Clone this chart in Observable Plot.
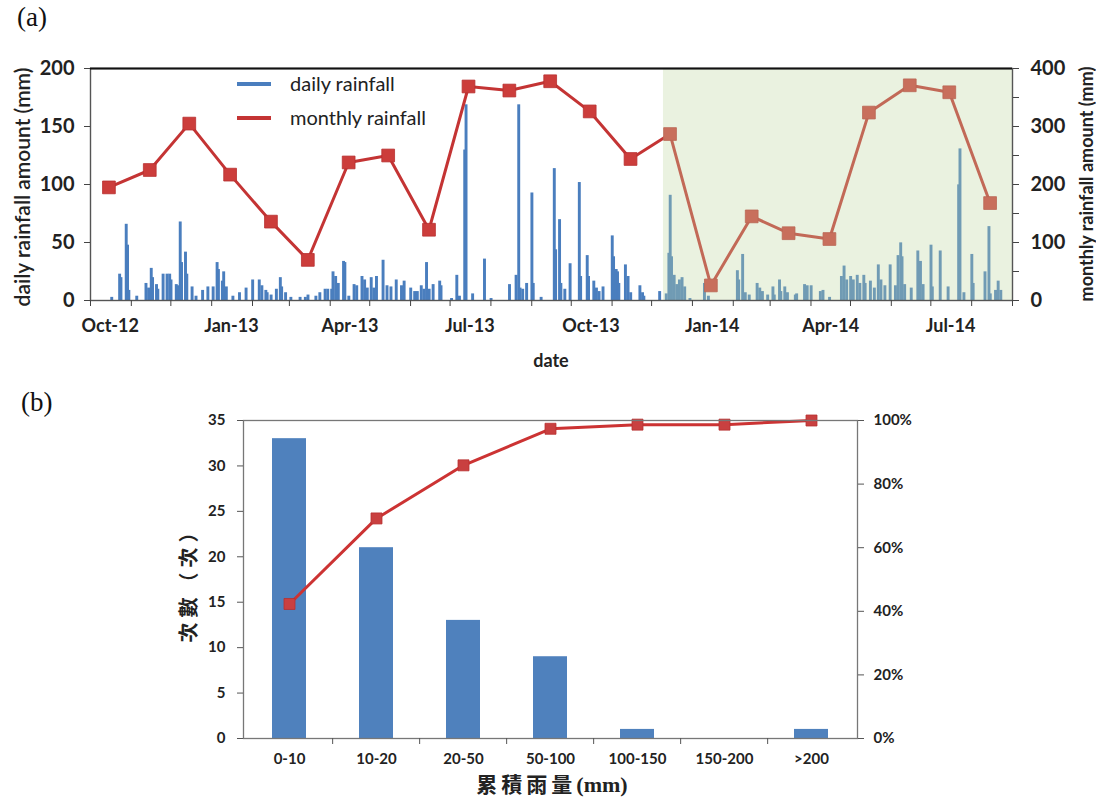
<!DOCTYPE html>
<html>
<head>
<meta charset="utf-8">
<script src="https://cdn.jsdelivr.net/npm/d3@7"></script>
<script src="https://cdn.jsdelivr.net/npm/@observablehq/plot@0.6"></script>
<style>
  html, body { margin: 0; padding: 0; background: #fff; }
  body { width: 1096px; height: 798px; overflow: hidden; position: relative; font-family: Lato, sans-serif; color: #222; }
  .panel { position: absolute; left: 0; }
  .t { position: absolute; white-space: nowrap; line-height: 1; }
  .rot { transform: translate(-50%, -50%) rotate(-90deg); }
  .ctr { transform: translate(-50%, -50%); }
  .tag { font-family: "Liberation Serif", "DejaVu Serif", serif; font-size: 27px; color: #111; }
  .leg-line { position: absolute; height: 4px; width: 34px; }
</style>
</head>
<body>
<div id="panelA" class="panel" style="top:0"></div>
<div id="panelB" class="panel" style="top:380px"></div>

<div class="t tag" style="left:17px; top:4px;">(a)</div>
<div class="t tag" style="left:21px; top:389px;">(b)</div>

<!-- panel (a) legend -->
<div class="leg-line" style="left:237px; top:82px; background:#4a7ebe;"></div>
<div class="t" style="left:290px; top:73px; font-size:20px; color:#222;">daily rainfall</div>
<div class="leg-line" style="left:237px; top:116px; background:#c43434;"></div>
<div class="t" style="left:290px; top:107px; font-size:20px; color:#222;">monthly rainfall</div>

<!-- panel (a) axis titles -->
<div class="t rot" style="left:21px; top:187px; font-size:21px; font-weight:600; color:#222;">daily rainfall amount (mm)</div>
<div class="t rot" style="left:1086px; top:184px; font-size:18px; font-weight:700; color:#222;">monthly rainfall amount (mm)</div>
<div class="t ctr" style="left:551px; top:360px; font-size:18px; font-weight:700; color:#222;">date</div>

<!-- panel (b) axis titles -->
<div class="t rot" style="left:188px; top:580px; font-size:20px; font-weight:700; letter-spacing:5px; font-family:'Noto Sans CJK TC', sans-serif; color:#222;">次數（次）</div>
<div class="t ctr" style="left:552px; top:784px; font-size:21px; font-weight:700; color:#222;"><span style="font-family:'Noto Sans CJK TC', sans-serif; letter-spacing:4px;">累積雨量</span><span style="font-family:'Liberation Serif', serif; font-size:22px;">(mm)</span></div>

<script>
// ---------------- Panel (a) data ----------------
const dailyDates = [
  "2012-10-17","2012-10-23","2012-10-24","2012-10-28","2012-10-29","2012-10-30",
  "2012-11-05","2012-11-12","2012-11-14","2012-11-16","2012-11-17","2012-11-20","2012-11-21","2012-11-25","2012-11-28","2012-11-30",
  "2012-12-01","2012-12-05","2012-12-06","2012-12-08","2012-12-09","2012-12-12","2012-12-13","2012-12-17","2012-12-20","2012-12-25","2012-12-29",
  "2013-01-02","2013-01-05","2013-01-06","2013-01-09","2013-01-10","2013-01-12","2013-01-17","2013-01-22","2013-01-27",
  "2013-02-01","2013-02-06","2013-02-08","2013-02-11","2013-02-12","2013-02-15","2013-02-19","2013-02-22","2013-02-23","2013-02-26",
  "2013-03-02","2013-03-09","2013-03-13","2013-03-15","2013-03-21","2013-03-24","2013-03-28","2013-03-30",
  "2013-04-02","2013-04-03","2013-04-05","2013-04-07","2013-04-11","2013-04-12","2013-04-15","2013-04-19","2013-04-21","2013-04-25","2013-04-27","2013-04-29",
  "2013-05-02","2013-05-04","2013-05-06","2013-05-11","2013-05-14","2013-05-17","2013-05-21","2013-05-25","2013-05-27",
  "2013-06-01","2013-06-04","2013-06-06","2013-06-09","2013-06-11","2013-06-13","2013-06-15","2013-06-18","2013-06-23","2013-06-24",
  "2013-07-02","2013-07-06","2013-07-08","2013-07-12","2013-07-13","2013-07-18","2013-07-27",
  "2013-08-01","2013-08-15","2013-08-20","2013-08-22","2013-08-23","2013-08-25","2013-08-28",
  "2013-09-01","2013-09-02","2013-09-08","2013-09-18","2013-09-19","2013-09-22","2013-09-23","2013-09-26","2013-09-30",
  "2013-10-07","2013-10-08","2013-10-13","2013-10-14","2013-10-18","2013-10-20","2013-10-22","2013-10-25",
  "2013-11-01","2013-11-02","2013-11-04","2013-11-05","2013-11-06","2013-11-11","2013-11-13","2013-11-15","2013-11-22","2013-11-24","2013-11-25",
  "2013-12-07","2013-12-12","2013-12-14","2013-12-15","2013-12-16","2013-12-18","2013-12-20","2013-12-22","2013-12-24","2013-12-26","2013-12-30",
  "2014-01-10","2014-01-13",
  "2014-02-04","2014-02-05","2014-02-08","2014-02-10","2014-02-13","2014-02-19","2014-02-21","2014-02-23","2014-02-27",
  "2014-03-03","2014-03-04","2014-03-08","2014-03-09","2014-03-12","2014-03-14","2014-03-20","2014-03-21","2014-03-27","2014-03-29",
  "2014-04-01","2014-04-08","2014-04-10","2014-04-15","2014-04-24","2014-04-26","2014-04-28",
  "2014-05-01","2014-05-03","2014-05-06","2014-05-08","2014-05-11","2014-05-12","2014-05-16","2014-05-19","2014-05-22","2014-05-24","2014-05-27","2014-05-31",
  "2014-06-04","2014-06-06","2014-06-08","2014-06-09","2014-06-11","2014-06-16","2014-06-21","2014-06-23","2014-06-25",
  "2014-07-01","2014-07-02","2014-07-08","2014-07-14","2014-07-22","2014-07-23","2014-07-26",
  "2014-08-01","2014-08-02","2014-08-11","2014-08-14","2014-08-15","2014-08-19","2014-08-21","2014-08-23"
];
const dailyRain = [
  2,22,19,65,47,8,
  3,14,10,27,19,13,9,22,22,22,
  17,13,12,67,32,41,22,11,3,8,11,
  11,32,26,16,24,11,3,6,10,
  17,17,12,8,6,4,9,19,11,6,
  2,2,2,4,3,6,9,9,
  9,24,20,14,33,32,3,13,12,20,17,10,
  19,10,20,34,12,11,17,12,16,
  10,7,7,12,9,32,9,13,16,12,
  1,21,3,129,168,5,35,
  1,13,21,168,10,9,14,
  92,14,2,113,43,69,14,9,31,
  101,20,38,20,16,10,7,11,
  55,37,26,24,14,30,20,6,12,6,3,
  7,5,40,90,37,21,13,17,19,11,1,
  14,3,
  25,17,39,6,4,14,10,7,4,
  11,4,17,7,11,6,4,5,13,12,
  12,7,8,2,20,29,17,
  20,17,21,14,21,14,16,10,30,17,12,30,
  12,38,49,37,13,10,42,33,13,
  47,11,42,11,99,130,6,
  39,14,24,63,5,8,16,8
];
const monthlyMonths = [
  "2012-10","2012-11","2012-12","2013-01","2013-02","2013-03","2013-04","2013-05","2013-06","2013-07","2013-08","2013-09",
  "2013-10","2013-11","2013-12","2014-01","2014-02","2014-03","2014-04","2014-05","2014-06","2014-07","2014-08"
];
const monthlyRain = [195,225,305,217,136,70,238,250,122,369,362,378,326,244,287,26,145,116,106,324,371,359,168];
const xTickLabels = ["Oct-12","Jan-13","Apr-13","Jul-13","Oct-13","Jan-14","Apr-14","Jul-14"];
const dateRange = ["2012-10-01","2014-09-01"];
const shadedPeriod = ["2013-12-10","2014-09-01"];
const leftTicks = [0,50,100,150,200];      // daily rainfall axis (mm)
const rightTicks = [0,100,200,300,400];    // monthly rainfall axis (mm)

// ---------------- Panel (b) data ----------------
const bins = ["0-10","10-20","20-50","50-100","100-150","150-200",">200"];
const binCounts = [33,21,13,9,1,0,1];
const cumulativePct = [42.3,69.2,85.9,97.4,98.7,98.7,100];
const countTicks = [0,5,10,15,20,25,30,35];
const pctTicks = [0,20,40,60,80,100];

// ---------------- Build panel (a) ----------------
const parseDay = d3.utcParse("%Y-%m-%d");
const parseMonth = d3.utcParse("%Y-%m");
const parseLabel = d3.utcParse("%b-%y");
const fmtLabel = d3.utcFormat("%b-%y");

const BLUE_A = "#4a7ebe";
const RED_A = "#c43434";
const RED_MARK = "#cc3d3b";

const leftMax = d3.max(leftTicks);
const rightMax = d3.max(rightTicks);
const ratio = rightMax / leftMax;

const daily = dailyDates.map((d, i) => ({date: parseDay(d), rain: dailyRain[i]}));
const monthly = monthlyMonths.map((m, i) => ({date: d3.utcDay.offset(parseMonth(m), 14), rain: monthlyRain[i]}));
const xDomain = dateRange.map(parseDay);
const monthStarts = d3.utcMonth.range(xDomain[0], d3.utcDay.offset(xDomain[1], 1));
const labelDates = xTickLabels.map(s => d3.utcDay.offset(parseLabel(s), 15));
const shade = [{start: parseDay(shadedPeriod[0]), end: parseDay(shadedPeriod[1])}];
const rightMinor = d3.range(0, rightMax + 1, 50).map(v => v / ratio);

const plotA = Plot.plot({
  width: 1096,
  height: 380,
  marginLeft: 90,
  marginRight: 84,
  marginTop: 68,
  marginBottom: 80,
  style: {fontFamily: "Lato, sans-serif", fontSize: "18px", fontWeight: "bold", color: "#222", background: "transparent", overflow: "visible"},
  x: {type: "utc", domain: xDomain},
  y: {domain: [0, leftMax]},
  marks: [
    Plot.rect(daily, {x1: "date", x2: d => d3.utcDay.offset(d.date, 1), y1: 0, y2: "rain", fill: BLUE_A, stroke: BLUE_A, strokeWidth: 1.6}),
    Plot.line(monthly, {x: "date", y: d => d.rain / ratio, stroke: RED_A, strokeWidth: 3}),
    Plot.dot(monthly, {x: "date", y: d => d.rain / ratio, symbol: "square", r: 7.2, fill: RED_MARK, stroke: "#b83030", strokeWidth: 0.8}),
    Plot.rect(shade, {x1: "start", x2: "end", y1: 0, y2: leftMax, fill: "rgb(190,215,160)", fillOpacity: 0.33}),
    Plot.frame({stroke: "#555", strokeWidth: 1.4}),
    Plot.ruleY([leftMax], {stroke: "#111", strokeWidth: 2.2}),
    Plot.axisX({ticks: monthStarts, tickSize: 6, tickFormat: () => "", stroke: "#444", label: null}),
    Plot.axisX({ticks: labelDates, tickSize: 0, tickPadding: 19, tickFormat: fmtLabel, label: null}),
    Plot.axisY({ticks: leftTicks, tickSize: 6, tickPadding: 10, label: null, stroke: "#444", fontSize: 20}),
    Plot.axisY({anchor: "right", ticks: rightMinor, tickSize: 6, tickFormat: () => "", label: null, stroke: "#444"}),
    Plot.axisY({anchor: "right", ticks: rightTicks.map(v => v / ratio), tickSize: 0, tickPadding: 18, tickFormat: d => String(Math.round(d * ratio)), label: null, fontSize: 20})
  ]
});
document.getElementById("panelA").append(plotA);

// ---------------- Build panel (b) ----------------
const BLUE_B = "#4f81bd";
const RED_B = "#cc3333";
const countMax = d3.max(countTicks);
const hist = bins.map((b, i) => ({bin: b, count: binCounts[i], cum: cumulativePct[i]}));
const mlB = 243, mrB = 239;
const step = (1096 - mlB - mrB) / bins.length;

const plotB = Plot.plot({
  width: 1096,
  height: 418,
  marginLeft: mlB,
  marginRight: mrB,
  marginTop: 40,
  marginBottom: 60,
  style: {fontFamily: "Lato, sans-serif", fontSize: "15px", fontWeight: "bold", color: "#222", background: "transparent", overflow: "visible"},
  x: {type: "band", domain: bins, paddingInner: 0.61, paddingOuter: 0.305},
  y: {domain: [0, countMax]},
  marks: [
    Plot.barY(hist, {x: "bin", y: "count", fill: BLUE_B}),
    Plot.line(hist, {x: "bin", y: d => d.cum / 100 * countMax, stroke: RED_B, strokeWidth: 3}),
    Plot.dot(hist, {x: "bin", y: d => d.cum / 100 * countMax, symbol: "square", r: 6.2, fill: "#c94040", stroke: "#b83030", strokeWidth: 0.8}),
    Plot.frame({stroke: "#777", strokeWidth: 1.3}),
    Plot.axisX({tickSize: 0, tickPadding: 15, label: null}),
    Plot.axisX({ticks: bins.slice(1), tickSize: 6, tickFormat: () => "", dx: -step / 2, stroke: "#555", label: null}),
    Plot.axisY({ticks: countTicks, tickSize: 6, tickPadding: 12, label: null, stroke: "#555"}),
    Plot.axisY({anchor: "right", ticks: pctTicks.map(p => p / 100 * countMax), tickSize: 6, tickPadding: 10, tickFormat: d => Math.round(d / countMax * 100) + "%", label: null, stroke: "#555"})
  ]
});
document.getElementById("panelB").append(plotB);
</script>
</body>
</html>
